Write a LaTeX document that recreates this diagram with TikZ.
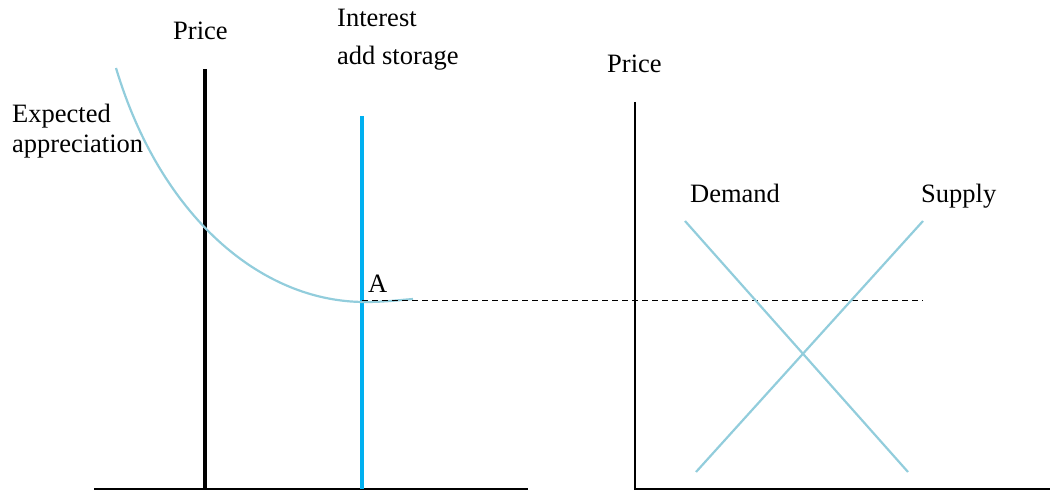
\documentclass[tikz,border=0pt]{standalone}
\usepackage{fontspec}
\newfontfamily\timesfont{LiberationSerif}[Extension=.ttf, UprightFont=*-Regular]
\definecolor{curveblue}{RGB}{146,205,220}
\definecolor{costblue}{RGB}{0,176,240}
\tikzset{
  lbl/.style={anchor=base west, inner sep=0pt, font=\timesfont\fontsize{26.5}{32}\selectfont},
  axis/.style={line width=2pt, black},
  curve/.style={line width=2.2pt, curveblue},
  level/.style={line width=1pt, dash pattern=on 6pt off 4pt}
}
\begin{document}
\begin{tikzpicture}[x=1pt, y=-1pt]
  \useasboundingbox (0,0) rectangle (1050,492);
  % Eixos (esquerda)
  \coordinate (lo) at (94,489);
  \coordinate (le) at (528,489);
  \draw[axis] (lo) -- (le);
  \coordinate (pb) at (205,489);
  \coordinate (pt) at (205,69);
  \draw[line width=3.5pt] (pb) -- (pt);
  \coordinate (ib) at (362,489);
  \coordinate (it) at (362,116);
  \draw[line width=3.5pt, costblue] (ib) -- (it);
  % Curva
  \coordinate (cs) at (116,68);
  \coordinate (A) at (365,302);
  \coordinate (ce) at (413,299);
  \draw[curve] (cs) .. controls (160,215) and (260,302) .. (A)
    .. controls (385,302) and (400,300) .. (ce);
  % Linha tracejada
  \coordinate (ds) at (362,300.5);
  \coordinate (de) at (923,300.5);
  \draw[level] (ds) -- (de);
  % Eixos (direita)
  \coordinate (ro) at (635,489);
  \coordinate (rt) at (635,102);
  \coordinate (re) at (1050,489);
  \draw[axis] (rt) -- (ro) -- (re);
  % Oferta e procura
  \coordinate (d1) at (685,221);
  \coordinate (d2) at (908,472);
  \coordinate (s1) at (696,472);
  \coordinate (s2) at (923,221);
  \draw[curve] (d1) -- (d2);
  \draw[curve] (s1) -- (s2);
  % Legendas
  \node[lbl] (price1) at (173,40) {Price};
  \node[lbl] (int) at (337,27) {Interest};
  \node[lbl] (stor) at (337,65) {add storage};
  \node[lbl] (exp1) at (12,123) {Expected};
  \node[lbl] (exp2) at (12,153) {appreciation};
  \node[lbl] (la) at (368,292) {A};
  \node[lbl] (price2) at (607,73) {Price};
  \node[lbl] (dem) at (690,203) {Demand};
  \node[lbl] (sup) at (921,203) {Supply};
\end{tikzpicture}
\end{document}
